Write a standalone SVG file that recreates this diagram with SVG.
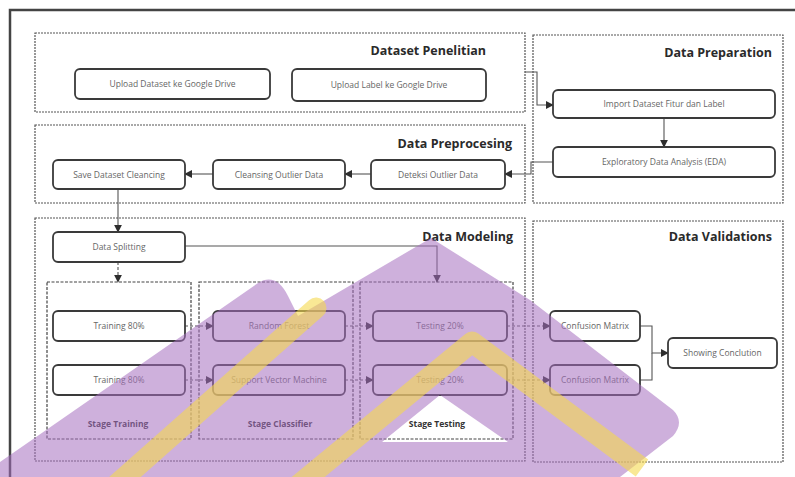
<svg xmlns="http://www.w3.org/2000/svg" width="795" height="477" viewBox="0 0 795 477">
<style>
.sec{fill:none;stroke:#555;stroke-width:1.2;stroke-dasharray:2 1}
.stg{fill:none;stroke:#444;stroke-width:1.2;stroke-dasharray:3 1.5}
.nd{fill:#fff;stroke:#3a3a3a;stroke-width:1.8}
.nt{font-family:"Open Sans","Liberation Sans",sans-serif;font-size:8.5px;fill:#666;text-anchor:middle}
.tt{font-family:"Open Sans","Liberation Sans",sans-serif;font-size:12.5px;font-weight:bold;fill:#2a2a2a;text-anchor:end}
.sl{font-family:"Open Sans","Liberation Sans",sans-serif;font-size:8.5px;font-weight:bold;fill:#333;text-anchor:middle}
.cn{fill:none;stroke:#555;stroke-width:1.1}
.dh{stroke-dasharray:3 2}
.ys{fill:none;stroke:#f5d94e;stroke-width:21;opacity:0.6}
</style>
<defs>
<marker id="arr" viewBox="0 0 10 10" refX="9" refY="5" markerWidth="8" markerHeight="8" markerUnits="userSpaceOnUse" orient="auto"><path d="M0,0 L10,5 L0,10 Z" fill="#2e2e2e"/></marker>
</defs>
<rect width="795" height="477" fill="#fff"/>
<path d="M10,477 V10 H795" fill="none" stroke="#444" stroke-width="2.5"/>

<g id="sections">
<rect class="sec" x="35" y="33" width="490" height="79"/>
<text class="tt" x="486" y="55">Dataset Penelitian</text>
<rect class="sec" x="533" y="35" width="250" height="168"/>
<text class="tt" x="772" y="57">Data Preparation</text>
<rect class="sec" x="35" y="125" width="490" height="78"/>
<text class="tt" x="512" y="148">Data Preprocesing</text>
<rect class="sec" x="35" y="218" width="490" height="243"/>
<text class="tt" x="513" y="241">Data Modeling</text>
<rect class="sec" x="533" y="221" width="250" height="241"/>
<text class="tt" x="772" y="241">Data Validations</text>
</g>

<g id="stages">
<rect class="stg" x="47" y="282" width="144" height="157"/>
<text class="sl" x="118" y="427">Stage Training</text>
<rect class="stg" x="199" y="282" width="154" height="157"/>
<text class="sl" x="280" y="427">Stage Classifier</text>
<rect class="stg" x="360" y="282" width="153" height="157"/>
<text class="sl" x="437" y="427">Stage Testing</text>
</g>

<g id="connectors">
<path class="cn" d="M525,72 H537 V105 H553" marker-end="url(#arr)"/>
<path class="cn" d="M664,118 V147" marker-end="url(#arr)"/>
<path class="cn" d="M553,162 H531 V174 H505" marker-end="url(#arr)"/>
<path class="cn" d="M371,174 H345" marker-end="url(#arr)"/>
<path class="cn" d="M213,174 H185" marker-end="url(#arr)"/>
<path class="cn" d="M118,188 V232" marker-end="url(#arr)"/>
<path class="cn dh" d="M118,262 V282" marker-end="url(#arr)"/>
<path class="cn" d="M185,246 H437 V282" marker-end="url(#arr)" stroke="#777"/>
<path class="cn dh" d="M185,326 H213" marker-end="url(#arr)"/>
<path class="cn dh" d="M185,380 H213" marker-end="url(#arr)"/>
<path class="cn dh" d="M345,326 H373" marker-end="url(#arr)"/>
<path class="cn dh" d="M345,380 H373" marker-end="url(#arr)"/>
<path class="cn dh" d="M507,326 H550" marker-end="url(#arr)"/>
<path class="cn dh" d="M507,380 H550" marker-end="url(#arr)"/>
<path class="cn" d="M640,326 H652 V353 H668" marker-end="url(#arr)"/>
<path class="cn" d="M640,380 H652 V353"/>
</g>

<g id="n-upload-dataset"><rect class="nd" x="75" y="69" width="195" height="30" rx="5"/><text class="nt" x="172.5" y="87">Upload Dataset ke Google Drive</text></g>
<g id="n-upload-label"><rect class="nd" x="292" y="69" width="194" height="32" rx="5"/><text class="nt" x="389" y="88">Upload Label ke Google Drive</text></g>
<g id="n-import"><rect class="nd" x="553" y="90" width="222" height="28" rx="5"/><text class="nt" x="664" y="107">Import Dataset Fitur dan Label</text></g>
<g id="n-eda"><rect class="nd" x="553" y="147" width="222" height="30" rx="5"/><text class="nt" x="664" y="165">Exploratory Data Analysis (EDA)</text></g>
<g id="n-save"><rect class="nd" x="53" y="160" width="132" height="29" rx="5"/><text class="nt" x="119" y="177.5">Save Dataset Cleancing</text></g>
<g id="n-cleansing"><rect class="nd" x="213" y="160" width="132" height="29" rx="5"/><text class="nt" x="279" y="177.5">Cleansing Outlier Data</text></g>
<g id="n-deteksi"><rect class="nd" x="371" y="160" width="134" height="29" rx="5"/><text class="nt" x="438" y="177.5">Deteksi Outlier Data</text></g>
<g id="n-split"><rect class="nd" x="53" y="232" width="132" height="30" rx="5"/><text class="nt" x="119" y="250">Data Splitting</text></g>
<g id="n-train1"><rect class="nd" x="53" y="311" width="132" height="30" rx="5"/><text class="nt" x="119" y="329">Training 80%</text></g>
<g id="n-train2"><rect class="nd" x="53" y="365" width="132" height="30" rx="5"/><text class="nt" x="119" y="383">Training 80%</text></g>
<g id="n-rf"><rect class="nd" x="213" y="311" width="132" height="30" rx="5"/><text class="nt" x="279" y="329">Random Forest</text></g>
<g id="n-svm"><rect class="nd" x="213" y="365" width="132" height="30" rx="5"/><text class="nt" x="279" y="383">Support Vector Machine</text></g>
<g id="n-test1"><rect class="nd" x="373" y="311" width="134" height="30" rx="5"/><text class="nt" x="440" y="329">Testing 20%</text></g>
<g id="n-test2"><rect class="nd" x="373" y="365" width="134" height="30" rx="5"/><text class="nt" x="440" y="383">Testing 20%</text></g>
<g id="n-cm1"><rect class="nd" x="550" y="311" width="90" height="30" rx="5"/><text class="nt" x="595" y="329">Confusion Matrix</text></g>
<g id="n-cm2"><rect class="nd" x="550" y="365" width="90" height="30" rx="5"/><text class="nt" x="595" y="383">Confusion Matrix</text></g>
<g id="n-show"><rect class="nd" x="668" y="338" width="109" height="30" rx="5"/><text class="nt" x="722.5" y="356">Showing Conclution</text></g>

<g id="watermark">
<path d="M0,477 L0,462 L258,283 Q276,272 288,296 L298,316 L431,238 L530,300 L673,410 Q685,422 673,436 L620,477 Z M440,395 L508,442 L382,442 Z" fill="#a56fc0" fill-rule="evenodd" opacity="0.55"/>
<path class="ys" d="M108,492 L316,308" stroke-linecap="round"/>
<path class="ys" d="M290,492 L472,342 L642,468" stroke-linejoin="round"/>
</g>
</svg>
